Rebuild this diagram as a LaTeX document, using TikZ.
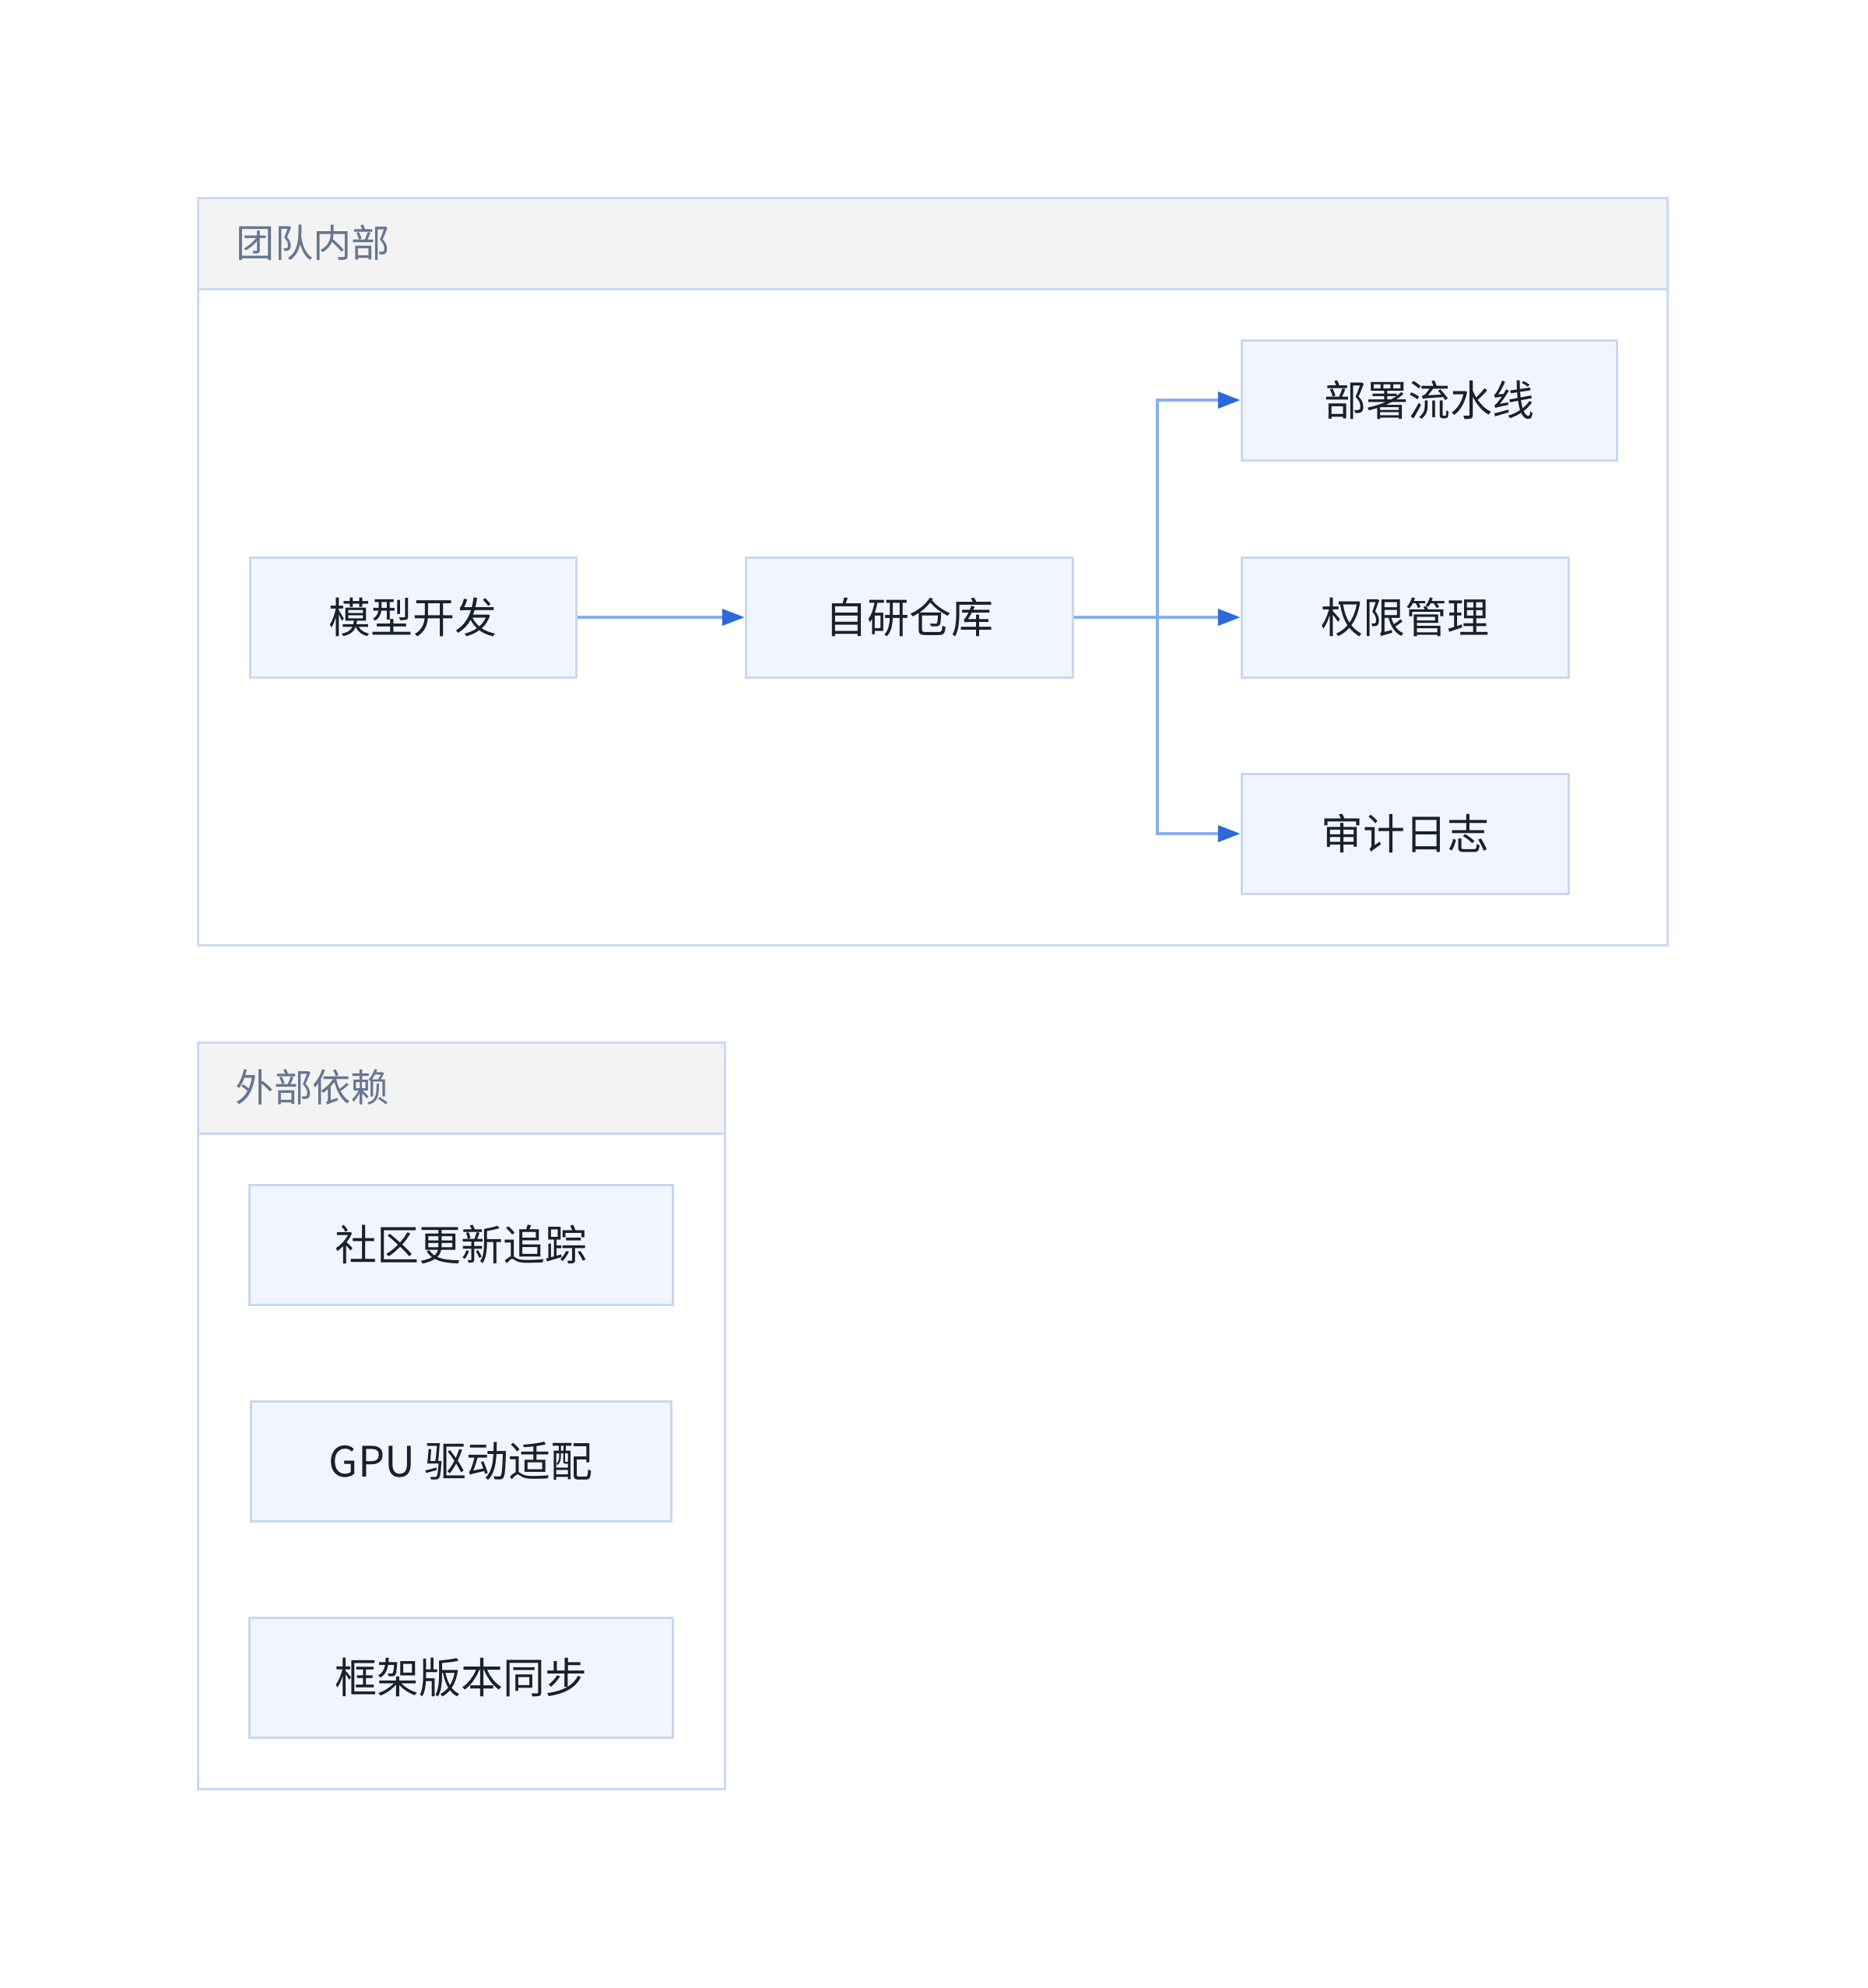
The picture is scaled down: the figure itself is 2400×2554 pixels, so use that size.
\documentclass[tikz,border=0pt]{standalone}
\usepackage{fontspec}
\setmainfont{Noto Sans CJK SC}
\usetikzlibrary{arrows.meta}
\definecolor{grpborder}{HTML}{CBDAF2}
\definecolor{grphead}{HTML}{F3F3F3}
\definecolor{nodefill}{HTML}{F1F6FE}
\definecolor{nodeborder}{HTML}{C8D8F3}
\definecolor{edgeline}{HTML}{8AAEEE}
\definecolor{edgetip}{HTML}{2E68D9}
\definecolor{headtext}{HTML}{66768F}
\definecolor{nodetext}{HTML}{1B2030}
\begin{document}
\begin{tikzpicture}[x=0.3pt,y=-0.3pt,
  grp/.style={draw=grpborder,line width=0.9pt},
  grphd/.style={draw=grpborder,fill=grphead,line width=0.9pt},
  grplabel/.style={anchor=west,inner sep=0pt,text=headtext,font=\fontsize{14.8pt}{16pt}\selectfont},
  box/.style={draw=nodeborder,fill=nodefill,line width=0.9pt,inner sep=0pt,text=nodetext,font=\fontsize{16.2pt}{18pt}\selectfont},
  edge/.style={draw=edgeline,line width=1.15pt,-{Triangle[length=8.6pt,width=6.3pt,color=edgetip]}}
]
\useasboundingbox (0,0) rectangle (2400,2554);
% group 1
\draw[grphd] (254,254) rectangle (2142,371);
\draw[grp] (254,371) rectangle (2142,1214);
\node[grplabel] (g1) at (303,312) {团队内部};
% group 2
\draw[grphd] (254,1339) rectangle (931,1456);
\draw[grp] (254,1456) rectangle (931,2298);
\node[grplabel] (g2) at (302,1397) {外部依赖};
% nodes
\node[box,minimum width=125.7pt,minimum height=46.2pt] (dev) at (530.5,793) {模型开发};
\node[box,minimum width=126pt,minimum height=46.2pt] (repo) at (1168,793) {自研仓库};
\node[box,minimum width=144.6pt,minimum height=46.2pt] (deploy) at (1836,514) {部署流水线};
\node[box,minimum width=126pt,minimum height=46.2pt] (perm) at (1805,793) {权限管理};
\node[box,minimum width=126pt,minimum height=46.2pt] (audit) at (1805,1071) {审计日志};
\node[box,minimum width=163.2pt,minimum height=46.2pt] (comm) at (592,1599) {社区更新追踪};
\node[box,minimum width=162pt,minimum height=46.2pt] (gpu) at (592,1877) {GPU 驱动适配};
\node[box,minimum width=163.2pt,minimum height=46.2pt] (fw) at (592,2155.5) {框架版本同步};
% edges
\coordinate (split) at (1487,793);
\draw[edge] (dev.east) -- (repo.west);
\draw[edge] (repo.east) -- (perm.west);
\draw[edge] (repo.east) -- (split) |- (deploy.west);
\draw[edge] (repo.east) -- (split) |- (audit.west);
\end{tikzpicture}
\end{document}
